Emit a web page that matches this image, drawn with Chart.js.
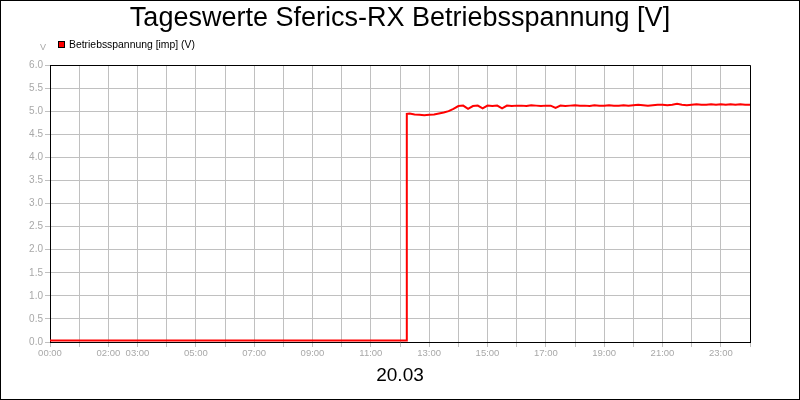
<!DOCTYPE html>
<html>
<head>
<meta charset="utf-8">
<script src="https://cdn.jsdelivr.net/npm/chart.js@4.4.1/dist/chart.umd.min.js"></script>
<style>
  body { margin: 0; background: #fff; }
  canvas { display: block; }
</style>
</head>
<body>
<canvas id="chart" width="800" height="400"></canvas>
<script>
// tick labels per hour (0..24), empty where the original shows none
const hourLabels = ['00:00', '', '02:00', '03:00', '', '05:00', '', '07:00', '', '09:00', '', '11:00', '',
  '13:00', '', '15:00', '', '17:00', '', '19:00', '', '21:00', '', '23:00', ''];

const times = [
  '00:00', '01:00', '02:00', '03:00', '04:00', '05:00', '06:00', '07:00', '08:00', '09:00', '10:00', '11:00', '12:00',
  '12:13', '12:14',
  '12:20', '12:30', '12:40', '12:50',
  '13:00', '13:10', '13:20', '13:30', '13:40', '13:50',
  '14:00', '14:10', '14:20', '14:30', '14:40', '14:50',
  '15:00', '15:10', '15:20', '15:30', '15:40', '15:50',
  '16:00', '16:10', '16:20', '16:30', '16:40', '16:50',
  '17:00', '17:10', '17:20', '17:30', '17:40', '17:50',
  '18:00', '18:10', '18:20', '18:30', '18:40', '18:50',
  '19:00', '19:10', '19:20', '19:30', '19:40', '19:50',
  '20:00', '20:10', '20:20', '20:30', '20:40', '20:50',
  '21:00', '21:10', '21:20', '21:30', '21:40', '21:50',
  '22:00', '22:10', '22:20', '22:30', '22:40', '22:50',
  '23:00', '23:10', '23:20', '23:30', '23:40', '23:50',
  '24:00'
];

const voltage = [
  0.03, 0.03, 0.03, 0.03, 0.03, 0.03, 0.03, 0.03, 0.03, 0.03, 0.03, 0.03, 0.03,
  0.03, 4.94,
  4.95, 4.93, 4.92, 4.91,
  4.92, 4.93, 4.95, 4.97, 5.00, 5.05,
  5.11, 5.12, 5.05, 5.11, 5.12, 5.06,
  5.12, 5.11, 5.12, 5.06, 5.12, 5.11,
  5.12, 5.12, 5.11, 5.13, 5.12, 5.11,
  5.12, 5.12, 5.07, 5.12, 5.11, 5.12,
  5.13, 5.12, 5.12, 5.11, 5.13, 5.12,
  5.12, 5.13, 5.12, 5.12, 5.13, 5.12,
  5.13, 5.14, 5.13, 5.12, 5.13, 5.14,
  5.14, 5.13, 5.14, 5.16, 5.14, 5.13,
  5.14, 5.15, 5.14, 5.14, 5.15, 5.14,
  5.15, 5.14, 5.15, 5.14, 5.15, 5.14,
  5.14
];

function toMinutes(t) {
  const [h, m] = t.split(':').map(Number);
  return h * 60 + m;
}

const points = times.map((t, i) => ({ x: toMinutes(t), y: voltage[i] }));

const FONT = "'Liberation Sans', Arial, sans-serif";
const GRAY = '#a8a8a8';

// frame, top/right plot border, unit label and legend
const framePlugin = {
  id: 'framePlugin',
  afterDraw(chart) {
    const ctx = chart.ctx;
    const a = chart.chartArea;
    ctx.save();
    ctx.strokeStyle = '#000';
    ctx.lineWidth = 1;
    ctx.beginPath();
    ctx.moveTo(Math.round(a.left) + 0.5, Math.round(a.top) + 0.5);
    ctx.lineTo(Math.round(a.right) + 0.5, Math.round(a.top) + 0.5);
    ctx.lineTo(Math.round(a.right) + 0.5, Math.round(a.bottom) + 0.5);
    ctx.stroke();
    ctx.strokeRect(0.5, 0.5, chart.width - 1, chart.height - 1);

    ctx.fillStyle = GRAY;
    ctx.font = '9px ' + FONT;
    ctx.textAlign = 'center';
    ctx.textBaseline = 'middle';
    ctx.fillText('V', 43, 48);

    ctx.fillStyle = '#ff0000';
    ctx.fillRect(58, 41, 7, 7);
    ctx.strokeStyle = '#000';
    ctx.strokeRect(58.5, 41.5, 6, 6);
    ctx.fillStyle = '#000';
    ctx.font = '10.4px ' + FONT;
    ctx.textAlign = 'left';
    ctx.fillText(chart.data.datasets[0].label, 69, 45);
    ctx.restore();
  }
};

new Chart(document.getElementById('chart'), {
  type: 'line',
  data: {
    datasets: [{
      label: 'Betriebsspannung [imp] (V)',
      data: points,
      borderColor: '#ff0000',
      backgroundColor: '#ff0000',
      borderWidth: 2,
      pointRadius: 0,
      tension: 0,
      fill: false
    }]
  },
  options: {
    responsive: false,
    animation: false,
    layout: { padding: 0 },
    plugins: {
      legend: { display: false },
      tooltip: { enabled: false },
      title: {
        display: true,
        text: 'Tageswerte Sferics-RX Betriebsspannung [V]',
        color: '#000',
        font: { family: FONT, size: 27, weight: 'normal' },
        padding: { top: 2, bottom: 30.6 }
      }
    },
    scales: {
      x: {
        type: 'linear',
        min: 0,
        max: 1440,
        afterFit(scale) { scale.height = 58; },
        ticks: {
          stepSize: 60,
          autoSkip: false,
          maxRotation: 0,
          color: GRAY,
          font: { family: FONT, size: 9.5 },
          padding: 1,
          callback: (v) => hourLabels[v / 60] || ''
        },
        grid: { color: '#c0c0c0', tickColor: '#c0c0c0', tickLength: 5 },
        border: { color: '#000' },
        title: {
          display: true,
          text: '20.03',
          color: '#000',
          font: { family: FONT, size: 19 },
          padding: { top: 0, bottom: 13 }
        }
      },
      y: {
        min: 0,
        max: 6,
        afterFit(scale) { scale.width = 50; },
        ticks: {
          stepSize: 0.5,
          color: GRAY,
          font: { family: FONT, size: 10 },
          padding: 2,
          callback: (v) => v.toFixed(1)
        },
        grid: { color: '#c0c0c0', tickColor: '#c0c0c0', tickLength: 5 },
        border: { color: '#000' }
      },
      // empty right-hand axis keeps a 50px margin so the title stays centred on the page
      yRight: {
        position: 'right',
        min: 0,
        max: 6,
        afterFit(scale) { scale.width = 50; },
        ticks: { display: false },
        grid: { display: false, drawOnChartArea: false },
        border: { display: false }
      }
    }
  },
  plugins: [framePlugin]
});
</script>
</body>
</html>
